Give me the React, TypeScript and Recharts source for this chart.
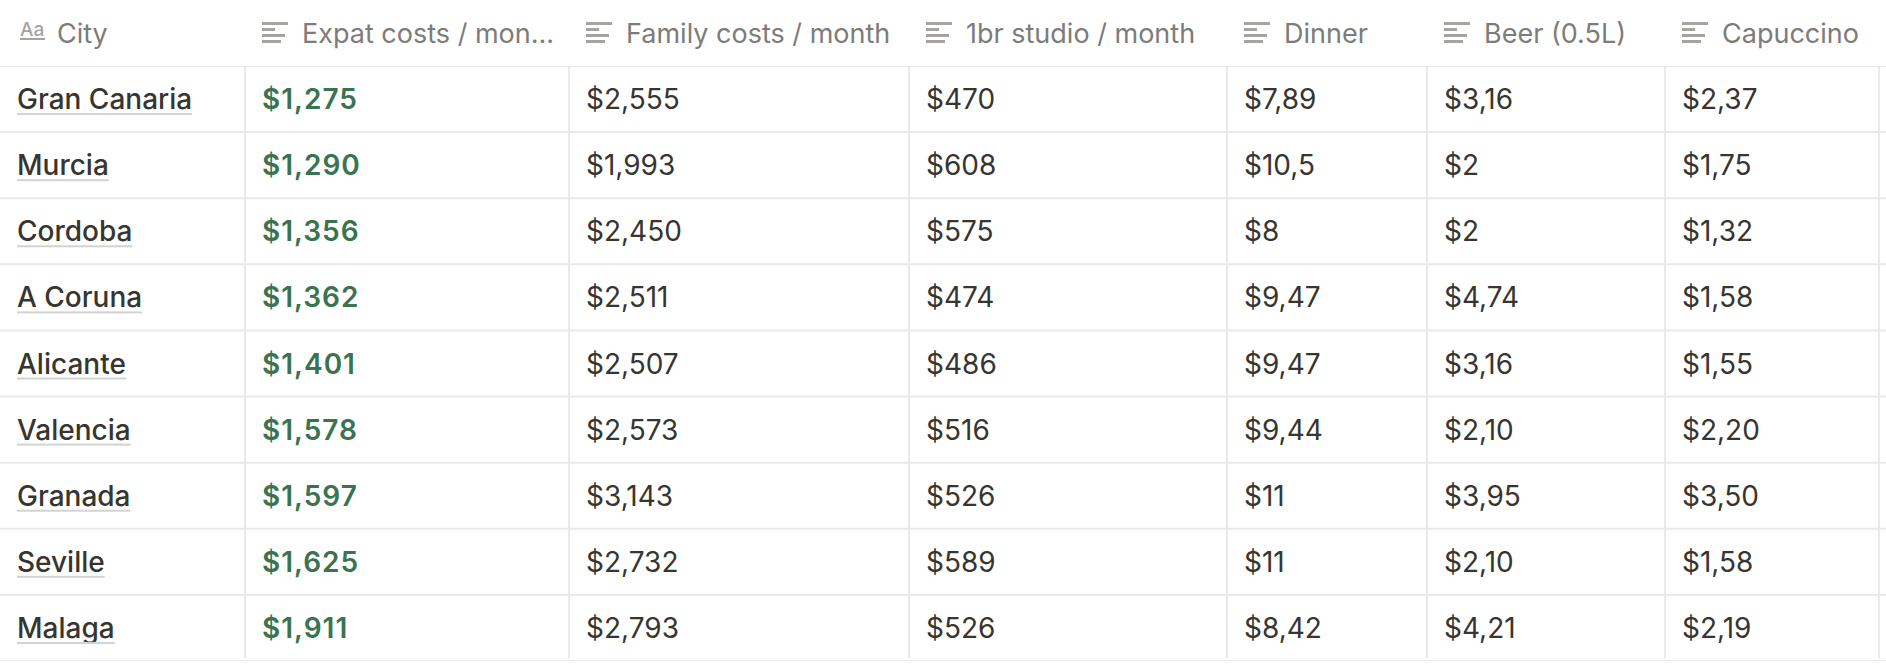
import React, { useLayoutEffect, useRef, useState } from 'react';
import { ComposedChart, Scatter, XAxis, YAxis } from 'recharts';

const cities = [
  'Gran Canaria',
  'Murcia',
  'Cordoba',
  'A Coruna',
  'Alicante',
  'Valencia',
  'Granada',
  'Seville',
  'Malaga',
];
const columnLabels = [
  'City',
  'Expat costs / mon...',
  'Family costs / month',
  '1br studio / month',
  'Dinner',
  'Beer (0.5L)',
  'Capuccino',
];
const expatCosts = ['$1,275', '$1,290', '$1,356', '$1,362', '$1,401', '$1,578', '$1,597', '$1,625', '$1,911'];
const familyCosts = ['$2,555', '$1,993', '$2,450', '$2,511', '$2,507', '$2,573', '$3,143', '$2,732', '$2,793'];
const studioRent = ['$470', '$608', '$575', '$474', '$486', '$516', '$526', '$589', '$526'];
const dinner = ['$7,89', '$10,5', '$8', '$9,47', '$9,47', '$9,44', '$11', '$11', '$8,42'];
const beer = ['$3,16', '$2', '$2', '$4,74', '$3,16', '$2,10', '$3,95', '$2,10', '$4,21'];
const capuccino = ['$2,37', '$1,75', '$1,32', '$1,58', '$1,55', '$2,20', '$3,50', '$1,58', '$2,19'];

// layout
const W = 1886;
const H = 668;
const HEADER_H = 66;
const BOTTOM = 7;
const ROW_H = (H - HEADER_H - BOTTOM) / cities.length;
const columnEdges = [0, 245, 569, 909, 1227, 1427, 1665];
const TABLE_RIGHT = 1879;
const PAD = 17;
const FONT = 'Inter, "Noto Sans", sans-serif';
const HEAD_SIZE = 27;
const FONT_SIZE = 28;
const LINE = '#e9e9e7';
const TEXT = '#37352f';
const MUTED = '#7d7c78';
const ICON = '#a5a4a1';
const GREEN = '#397350';

const columns = [cities, expatCosts, familyCosts, studioRent, dinner, beer, capuccino];

const cells = columns.flatMap((values, col) =>
  values.map((text, row) => ({
    x: columnEdges[col],
    row,
    text,
    col,
  }))
);

function CityText({ x, y, text }: { x: number; y: number; text: string }) {
  const ref = useRef<SVGTextElement>(null);
  const [w, setW] = useState(0);
  useLayoutEffect(() => {
    if (ref.current) setW(ref.current.getComputedTextLength());
  }, [text]);
  return (
    <g>
      <text ref={ref} x={x} y={y} fill={TEXT} fontFamily={FONT} fontSize={FONT_SIZE} fontWeight={500}>
        {text}
      </text>
      <rect x={x} y={y + 4} width={w} height={2} fill='#d3d3d1' />
    </g>
  );
}

function Cell(props: any) {
  const { cx, cy, payload } = props;
  const { col, row, text } = payload;
  const top = cy - ROW_H / 2;
  const bottom = cy + ROW_H / 2;
  const last = col === columnEdges.length - 1;
  const right = last ? W : columnEdges[col + 1];
  const isLastRow = row === cities.length - 1;
  const ty = cy + 10;
  return (
    <g>
      <line x1={col === 0 ? 0 : cx} x2={right} y1={top} y2={top} stroke={LINE} strokeWidth={2} />
      {isLastRow && (
        <line x1={col === 0 ? 0 : cx} x2={right} y1={bottom} y2={bottom} stroke={LINE} strokeWidth={2} />
      )}
      {col > 0 && (
        <line x1={cx} x2={cx} y1={top} y2={isLastRow ? bottom - 3 : bottom} stroke={LINE} strokeWidth={2} />
      )}
      {last && (
        <line
          x1={TABLE_RIGHT}
          x2={TABLE_RIGHT}
          y1={top}
          y2={isLastRow ? bottom - 3 : bottom}
          stroke={LINE}
          strokeWidth={2}
        />
      )}
      {col === 0 ? (
        <CityText x={cx + PAD} y={ty} text={text} />
      ) : (
        <text
          x={cx + PAD}
          y={ty}
          fill={col === 1 ? GREEN : TEXT}
          fontFamily={FONT}
          fontSize={FONT_SIZE}
          fontWeight={col === 1 ? 600 : 400}
          letterSpacing={col === 1 ? 1 : 0}
        >
          {text}
        </text>
      )}
    </g>
  );
}

function HeaderTick(props: any) {
  const { x, payload } = props;
  const col = columnEdges.indexOf(payload.value);
  const ix = x + PAD;
  const cy = HEADER_H / 2;
  return (
    <g>
      {col === 0 ? (
        <g>
          <text x={ix + 3} y={cy + 3} fill={ICON} fontFamily={FONT} fontSize={19} fontWeight={500}>
            Aa
          </text>
          <rect x={ix + 3} y={cy + 5} width={25} height={2} fill={ICON} />
        </g>
      ) : (
        <g fill={ICON}>
          <rect x={ix} y={cy - 11} width={26} height={3} />
          <rect x={ix} y={cy - 5} width={13} height={3} />
          <rect x={ix} y={cy + 1} width={23} height={3} />
          <rect x={ix} y={cy + 7} width={19} height={3} />
        </g>
      )}
      <text x={x + 57} y={cy + 10} fill={MUTED} fontFamily={FONT} fontSize={HEAD_SIZE}>
        {columnLabels[col]}
      </text>
    </g>
  );
}

export default function App() {
  return (
    <div style={{ position: 'absolute', left: 0, top: 0, background: '#fff' }}>
      <ComposedChart width={W} height={H} data={cells} margin={{ top: 0, right: 0, bottom: BOTTOM, left: 0 }}>
        <XAxis
          type='number'
          dataKey='x'
          domain={[0, W]}
          orientation='top'
          height={HEADER_H}
          ticks={columnEdges}
          interval={0}
          tick={<HeaderTick />}
          axisLine={false}
          tickLine={false}
        />
        <YAxis
          type='number'
          dataKey='row'
          domain={[-0.5, cities.length - 0.5]}
          allowDataOverflow
          reversed
          hide
          width={0}
        />
        <Scatter data={cells} dataKey='row' shape={<Cell />} isAnimationActive={false} />
      </ComposedChart>
    </div>
  );
}
